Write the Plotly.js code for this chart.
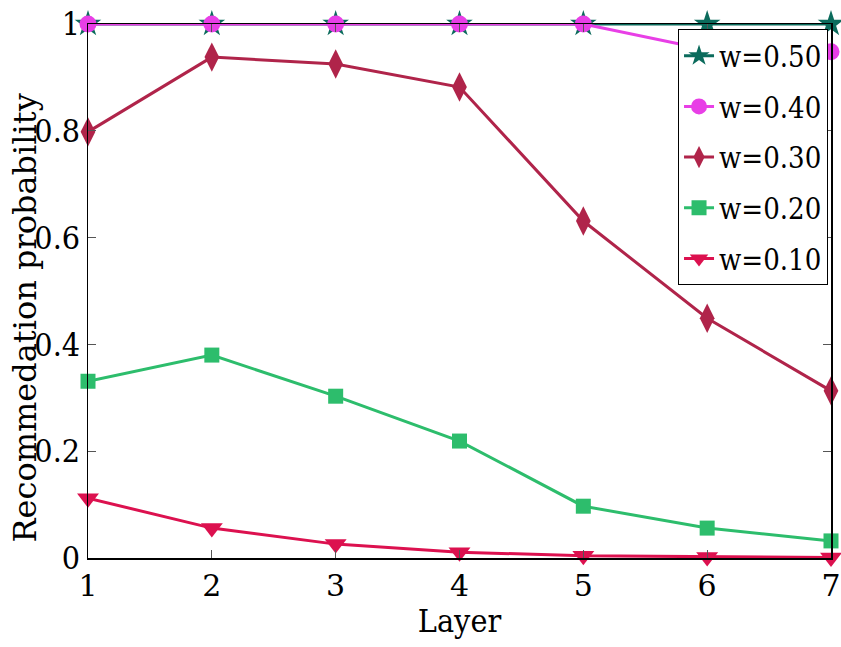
<!DOCTYPE html>
<html>
<head>
<meta charset="utf-8">
<script src="https://cdn.plot.ly/plotly-3.0.1.min.js"></script>
<style>html,body{margin:0;padding:0;background:#fff;}#chart{width:841px;height:647px;}</style>
</head>
<body>
<div id="chart"></div>
<script>
var layers = [1, 2, 3, 4, 5, 6, 7];
var seriesNames = ["w=0.50", "w=0.40", "w=0.30", "w=0.20", "w=0.10"];
var w050 = [1.0, 1.0, 1.0, 1.0, 1.0, 1.0, 1.0];
var w040 = [1.0, 1.0, 1.0, 1.0, 1.0, 0.952, 0.948];
var w030 = [0.798, 0.938, 0.925, 0.882, 0.631, 0.449, 0.313];
var w020 = [0.331, 0.380, 0.303, 0.219, 0.097, 0.056, 0.032];
var w010 = [0.112, 0.056, 0.026, 0.011, 0.004, 0.002, 0.001];
var yTicks = [0, 0.2, 0.4, 0.6, 0.8, 1];
var yTickText = ["0", "0.2", "0.4", "0.6", "0.8", "1"];

var colors = ["#0b6b5c", "#e83fe6", "#b0244a", "#2dbd6c", "#dc114f"];
var symbols = ["star", "circle", "diamond-tall", "square", "triangle-down"];
var sizes = [20, 17, 21, 15, 19];
var allY = [w050, w040, w030, w020, w010];

var traces = allY.map(function (ys, i) {
  return {
    x: layers, y: ys, name: seriesNames[i], type: "scatter", mode: "lines+markers",
    legendgroup: "g" + i,
    line: {color: colors[i], width: 3},
    marker: {symbol: symbols[i], size: sizes[i], color: colors[i]},
    cliponaxis: false
  };
});

var F1 = "DejaVu Serif Condensed";
var F2 = "DejaVu Serif";
var layout = {
  width: 841, height: 647,
  margin: {l: 88, r: 10, t: 24, b: 89},
  paper_bgcolor: "#fff", plot_bgcolor: "#fff",
  font: {family: F2, color: "#000", size: 30},
  showlegend: true,
  legend: {
    x: 0.996, y: 0.99, xanchor: "right", yanchor: "top",
    bgcolor: "#fff", bordercolor: "#000", borderwidth: 1,
    font: {family: F1, size: 29, color: "#000"},
    tracegroupgap: 10, itemwidth: 30
  },
  xaxis: {
    range: [1, 7], tickvals: layers, ticks: "inside", ticklen: 8, tickcolor: "#555",
    showline: true, linecolor: "#000", linewidth: 1.5, mirror: "ticks",
    showgrid: false, zeroline: false, ticklabeloverflow: "allow",
    tickfont: {family: F2, size: 30},
    title: {text: "Layer", font: {family: F1, size: 32}, standoff: 4}
  },
  yaxis: {
    range: [0, 1], tickvals: yTicks, ticktext: yTickText, ticks: "inside", ticklen: 8, tickcolor: "#555",
    showline: true, linecolor: "#000", linewidth: 1.5, mirror: "ticks",
    showgrid: false, zeroline: false, ticklabeloverflow: "allow",
    tickfont: {family: F1, size: 32}, ticklabelstandoff: 0
  },
  annotations: [{
    text: "Recommedation probability", textangle: -90,
    xref: "paper", yref: "paper", x: -0.085, y: 0.45, xanchor: "center", yanchor: "middle",
    showarrow: false, font: {family: F2, size: 32, color: "#000"}
  }]
};

Plotly.newPlot("chart", traces, layout, {displayModeBar: false, staticPlot: true});
</script>
</body>
</html>
